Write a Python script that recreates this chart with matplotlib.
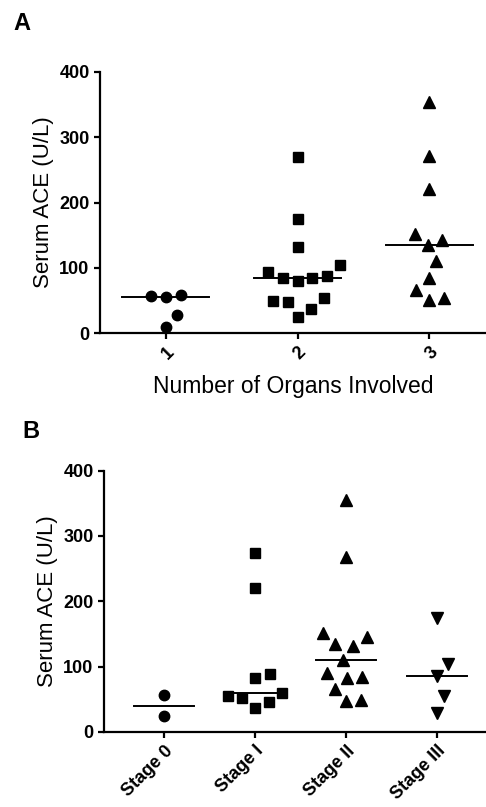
import numpy as np
import matplotlib
matplotlib.use('Agg')
import matplotlib.pyplot as plt

# ==========================================
# Data
# ==========================================
organ_labels = ['1', '2', '3']
organs_1 = [56, 55, 59, 28, 9]
organs_2 = [269, 174, 132, 93, 84, 80, 84, 88, 104, 47, 53, 49, 37, 24]
organs_3 = [354, 272, 221, 152, 143, 135, 111, 85, 66, 51, 53]

stage_labels = ['Stage 0', 'Stage I', 'Stage II', 'Stage III']
stage_0 = [56, 24]
stage_1 = [274, 220, 88, 82, 59, 52, 36, 46, 55]
stage_2 = [355, 267, 152, 145, 134, 131, 110, 91, 84, 82, 66, 47, 49]
stage_3 = [174, 104, 85, 55, 29]

plt.rcParams['font.family'] = ['Liberation Sans', 'DejaVu Sans']


def swarm_x(ax, x0, values, dx_px=15.0, dy_px=19.0):
    """Simple beeswarm: spread points sideways so markers don't overlap
    (elliptical keep-out zone, like the Prism scatter dot plot)."""
    tr = ax.transData
    ypix = tr.transform(np.column_stack([np.full(len(values), x0), values]))[:, 1]
    ypix = ypix * dx_px / dy_px          # squash y so the zone becomes a circle
    xscale = tr.transform((x0 + 1, 0))[0] - tr.transform((x0, 0))[0]
    d = dx_px
    offs = np.zeros(len(values))
    placed = []
    for i in np.argsort(ypix, kind='stable'):
        y = ypix[i]
        near = [(px, py) for px, py in placed if abs(py - y) < d]
        cands = [0.0]
        for px, py in near:
            step = np.sqrt(d ** 2 - (py - y) ** 2)
            cands += [px - step, px + step]
        cands.sort(key=lambda c: (round(abs(c), 6), -c))
        for c in cands:
            if all((c - px) ** 2 + (y - py) ** 2 >= d ** 2 - 1e-6 for px, py in near):
                offs[i] = c
                break
        placed.append((offs[i], y))
    return x0 + offs / xscale


def style_axes(ax, xlim):
    ax.set_xlim(*xlim)
    ax.set_ylim(0, 400)
    ax.set_yticks([0, 100, 200, 300, 400])
    for s in ['top', 'right']:
        ax.spines[s].set_visible(False)
    for s in ['left', 'bottom']:
        ax.spines[s].set_linewidth(1.6)
    ax.tick_params(axis='both', width=1.6, length=4.5, labelsize=13, pad=3)
    for lab in ax.get_yticklabels():
        lab.set_fontweight('bold')
    ax.set_ylabel('Serum ACE (U/L)', fontsize=16, labelpad=4)


def dot_plot(ax, groups, markers, sizes):
    for i, (vals, m, ms) in enumerate(zip(groups, markers, sizes), start=1):
        xs = swarm_x(ax, i, vals)
        ax.plot(xs, vals, linestyle='none', marker=m, markersize=ms,
                color='black', clip_on=False, zorder=3)
        med = np.median(vals)
        ax.plot([i - 0.33, i + 0.33], [med, med], color='black', lw=1.4, zorder=4)


fig = plt.figure(figsize=(4.86, 8.07), dpi=100)

# ---------- Panel A ----------
axA = fig.add_axes([100 / 486, 1 - 333 / 807, 386 / 486, 261 / 807])
style_axes(axA, (0.5, 3.43))
axA.set_xticks([1, 2, 3])
axA.set_xticklabels(organ_labels, rotation=45, ha='right', rotation_mode='anchor',
                    fontweight='bold')
dot_plot(axA, [organs_1, organs_2, organs_3], ['o', 's', '^'], [7.5, 7.8, 8.4])
axA.set_xlabel('Number of Organs Involved', fontsize=16.5, labelpad=9)

# ---------- Panel B ----------
axB = fig.add_axes([104 / 486, 1 - 732 / 807, 382 / 486, 261.5 / 807])
style_axes(axB, (0.34, 4.54))
axB.set_xticks([1, 2, 3, 4])
axB.set_xticklabels(stage_labels, rotation=45, ha='right', rotation_mode='anchor',
                    fontweight='bold')
dot_plot(axB, [stage_0, stage_1, stage_2, stage_3], ['o', 's', '^', 'v'],
         [7.5, 7.8, 8.4, 8.4])

fig.text(22 / 486, 1 - 24 / 807, 'A', fontsize=17, fontweight='bold',
         ha='center', va='center')
fig.text(31 / 486, 1 - 431 / 807, 'B', fontsize=17, fontweight='bold',
         ha='center', va='center')

fig.savefig('out.png', dpi=100)
plt.close(fig)
